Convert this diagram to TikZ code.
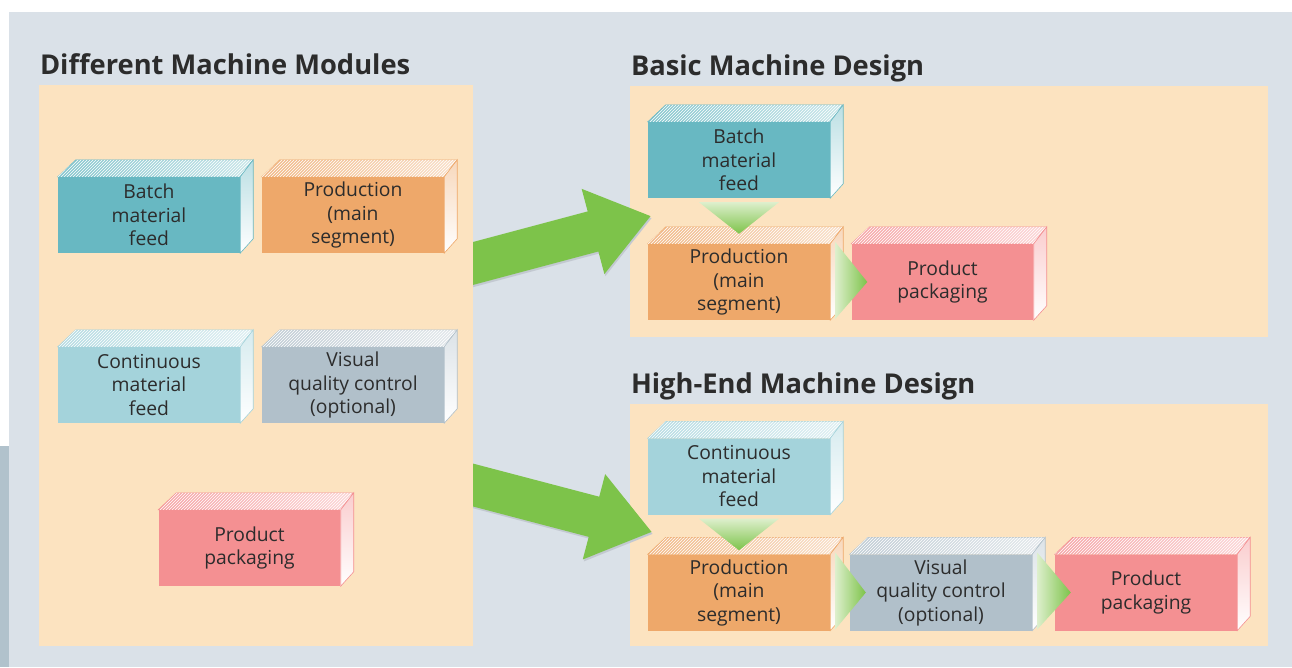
\documentclass[tikz,border=0pt]{standalone}
\usepackage{fontspec}
\setmainfont{Open Sans}
\usetikzlibrary{arrows.meta,patterns}

\definecolor{bgblue}{HTML}{DAE1E8}
\definecolor{barblue}{HTML}{B1C2CC}
\definecolor{cream}{HTML}{FCE3C0}
\definecolor{inkgray}{HTML}{2C2C2C}
\definecolor{feedteal}{HTML}{68B8C2}
\definecolor{feedblue}{HTML}{A4D3DB}
\definecolor{prodorange}{HTML}{EEA86A}
\definecolor{checkgray}{HTML}{B1C0CA}
\definecolor{packpink}{HTML}{F49092}
\definecolor{flowgreen}{HTML}{7DC34A}
\definecolor{flowlight}{HTML}{DDEFCC}
\definecolor{arrowshade}{HTML}{C3C9D1}

\tikzset{
  panel/.style={fill=cream, inner sep=0pt},
  heading/.style={anchor=base west, inner sep=0pt, text=inkgray,
    font=\fontsize{27.3}{30}\selectfont\bfseries},
  module/.style={fill=#1, minimum width=182pt, minimum height=76pt, inner sep=0pt,
    align=center, text=inkgray, font=\fontsize{19.3}{23.5}\selectfont},
  bigarrow/.style={line width=41.5pt, draw=#1, -{Triangle[length=60pt,width=84pt]}},
  downflow/.style={top color=flowlight, bottom color=flowgreen},
  rightflow/.style={left color=flowlight, right color=flowgreen},
}

% top and right faces of a module block
\newcommand{\modsides}[2]{%
  \shadedraw[draw=#2, line width=.6pt, left color=#2!80!white, right color=#2!35!white]
    (#1.north west) -- ++(18,-17) -- ++(177,0) -- (#1.north east) -- cycle;
  \fill[pattern=north east lines, pattern color=white, fill opacity=.35]
    (#1.north west) -- ++(18,-17) -- ++(177,0) -- (#1.north east) -- cycle;
  \shadedraw[draw=#2, line width=.6pt, top color=#2!45!white, bottom color=white]
    (#1.north east) -- ++(13,-17) -- ++(0,79) -- (#1.south east) -- cycle;
}

\begin{document}
\begin{tikzpicture}[x=1pt, y=-1pt]
  \useasboundingbox (0,0) rectangle (1292,667);
  \fill[white] (0,0) rectangle (1292,667);
  \fill[bgblue] (9,12) rectangle (1292,667);
  \fill[barblue] (0,446) rectangle (9,667);

  % panels and their headings
  \node[panel, minimum width=434pt, minimum height=561pt] (mods) at (256,365.5) {};
  \node[panel, minimum width=638pt, minimum height=251pt] (basic) at (949,211.5) {};
  \node[panel, minimum width=638pt, minimum height=242pt] (highend) at (949,525) {};
  \node[heading] (tmods) at ([shift={(1,-10)}]mods.north west) {Different Machine Modules};
  \node[heading] (tbasic) at ([shift={(1,-10)}]basic.north west) {Basic Machine Design};
  \node[heading] (thigh) at ([shift={(1,-10)}]highend.north west) {High-End Machine Design};

  % big arrows from the module set to both designs
  \coordinate (feedA) at (444,271.2);
  \coordinate (tipA) at (651,216);
  \coordinate (feedB) at (444,477.4);
  \coordinate (tipB) at (652,532);
  \begin{scope}
    \clip (mods.north east) rectangle (1292,667);
    \draw[bigarrow=arrowshade] ([shift={(1,2)}]feedA) -- ([shift={(1,2)}]tipA);
    \draw[bigarrow=arrowshade] ([shift={(1,2)}]feedB) -- ([shift={(1,2)}]tipB);
    \draw[bigarrow=flowgreen] (feedA) -- (tipA);
    \draw[bigarrow=flowgreen] (feedB) -- (tipB);
  \end{scope}

  % module set
  \node[module=feedteal] (bfeed) at (149,215) {Batch\\material\\feed};
  \modsides{bfeed}{feedteal}
  \node[module=prodorange] (prod) at (353,215) {Production\\(main\\segment)};
  \modsides{prod}{prodorange}
  \node[module=feedblue] (cfeed) at (149,385) {Continuous\\material\\feed};
  \modsides{cfeed}{feedblue}
  \node[module=checkgray] (vqc) at (353,385) {Visual\\quality control\\(optional)};
  \modsides{vqc}{checkgray}
  \node[module=packpink] (pack) at (249.5,548) {Product\\packaging};
  \modsides{pack}{packpink}

  % basic design
  \node[module=feedteal] (bfeed2) at (739,160) {Batch\\material\\feed};
  \modsides{bfeed2}{feedteal}
  \node[module=prodorange] (prod2) at (739,282) {Production\\(main\\segment)};
  \modsides{prod2}{prodorange}
  \node[module=packpink] (pack2) at (942.5,282) {Product\\packaging};
  \modsides{pack2}{packpink}

  % high-end design
  \node[module=feedblue] (cfeed3) at (739,476.5) {Continuous\\material\\feed};
  \modsides{cfeed3}{feedblue}
  \node[module=prodorange] (prod3) at (739,592.5) {Production\\(main\\segment)};
  \modsides{prod3}{prodorange}
  \node[module=checkgray] (vqc3) at (941,592.5) {Visual\\quality control\\(optional)};
  \modsides{vqc3}{checkgray}
  \node[module=packpink] (pack3) at (1146,592.5) {Product\\packaging};
  \modsides{pack3}{packpink}

  % flow between the modules
  \shade[downflow] ([shift={(-40,4)}]bfeed2.south) -- ([shift={(40,4)}]bfeed2.south) -- ([shift={(0,-10)}]prod2.north) -- cycle;
  \shade[rightflow] ([shift={(5,-40)}]prod2.east) -- ([shift={(5,37)}]prod2.east) -- ([shift={(16,0)}]pack2.west) -- cycle;
  \shade[downflow] ([shift={(-40,4)}]cfeed3.south) -- ([shift={(40,4)}]cfeed3.south) -- ([shift={(0,-4)}]prod3.north) -- cycle;
  \shade[rightflow] ([shift={(5,-40)}]prod3.east) -- ([shift={(5,37)}]prod3.east) -- ([shift={(16,0)}]vqc3.west) -- cycle;
  \shade[rightflow] ([shift={(5,-40)}]vqc3.east) -- ([shift={(5,37)}]vqc3.east) -- ([shift={(16,0)}]pack3.west) -- cycle;
\end{tikzpicture}
\end{document}
